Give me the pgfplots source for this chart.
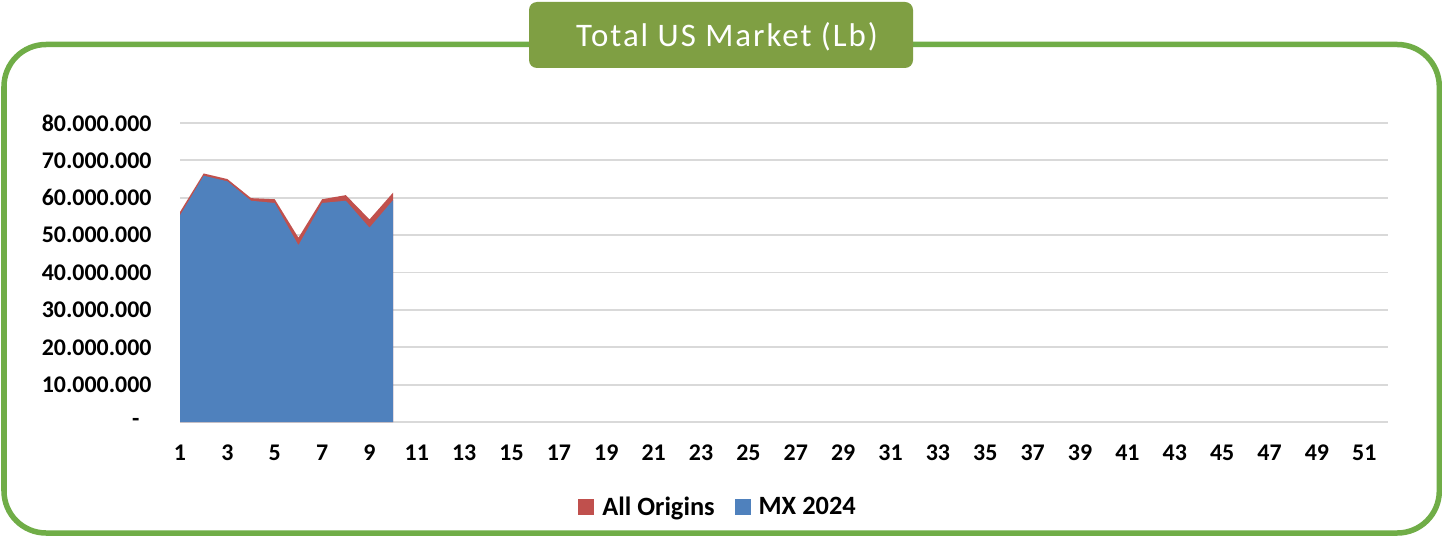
\documentclass[border=0pt]{standalone}
\usepackage{pgfplots}
\pgfplotsset{compat=1.18}
\usepackage{fontspec}
\setmainfont{Carlito}
\definecolor{framegreen}{HTML}{70AD47}
\definecolor{titlegreen}{HTML}{7F9F43}
\definecolor{aored}{HTML}{C0504D}
\definecolor{mxblue}{HTML}{4F81BD}
\definecolor{gridgray}{HTML}{D9D9D9}
\begin{document}
\begin{tikzpicture}[x=1bp,y=1bp]
\useasboundingbox (0,0) rectangle (1442,-536);
\fill[white] (0,0) rectangle (1442,-536);
\draw[framegreen, line width=5.5bp, rounded corners=42bp] (4,-44.5) rectangle (1439.3,-533);
\fill[titlegreen, rounded corners=8bp] (529,-2) rectangle (913,-68);
\node[text=white, font=\fontsize{33}{38}\selectfont\addfontfeature{LetterSpace=6}] at (727,-37) {Total US Market (Lb)};
\begin{axis}[
  at={(180bp,-422bp)}, anchor=south west, scale only axis,
  width=1208bp, height=299bp,
  xmin=1, xmax=52, ymin=0, ymax=80000000,
  scaled y ticks=false,
  axis line style={draw=none},
  tick style={draw=none},
  ymajorgrids, major grid style={gridgray, line width=1.8bp},
  ytick={0,10000000,20000000,30000000,40000000,50000000,60000000,70000000,80000000},
  yticklabels={{-\kern12bp\rule{0pt}{1pt}},10.000.000,20.000.000,30.000.000,40.000.000,50.000.000,60.000.000,70.000.000,80.000.000},
  xtick={1,3,...,51},
  xticklabels={1,3,5,7,9,11,13,15,17,19,21,23,25,27,29,31,33,35,37,39,41,43,45,47,49,51},
  ticklabel style={font=\bfseries\fontsize{24}{28}\selectfont},
  yticklabel style={xshift=-25bp},
  xticklabel style={yshift=-19bp},
  legend columns=2,
  legend style={at={(0.4454,-0.284)}, anchor=center, draw=none, fill=none,
    font=\bfseries\fontsize{26.5}{30}\selectfont,
    /tikz/every odd column/.append style={column sep=6bp},
    /tikz/every even column/.append style={column sep=18bp}},
  legend image code/.code={\fill[#1] (0bp,-8bp) rectangle (16bp,8bp);},
]
\addplot[fill=aored, draw=none] coordinates {
(1,56200000) (2,66500000) (3,65000000) (4,59900000) (5,59600000)
(6,49300000) (7,59600000) (8,60700000) (9,54200000) (10,61400000)} \closedcycle;
\addlegendentry{All Origins}
\addplot[fill=mxblue, draw=none] coordinates {
(1,55300000) (2,65900000) (3,64400000) (4,59200000) (5,58600000)
(6,47300000) (7,58600000) (8,59200000) (9,52000000) (10,59400000)} \closedcycle;
\addlegendentry{MX 2024}
\end{axis}
\end{tikzpicture}
\end{document}
